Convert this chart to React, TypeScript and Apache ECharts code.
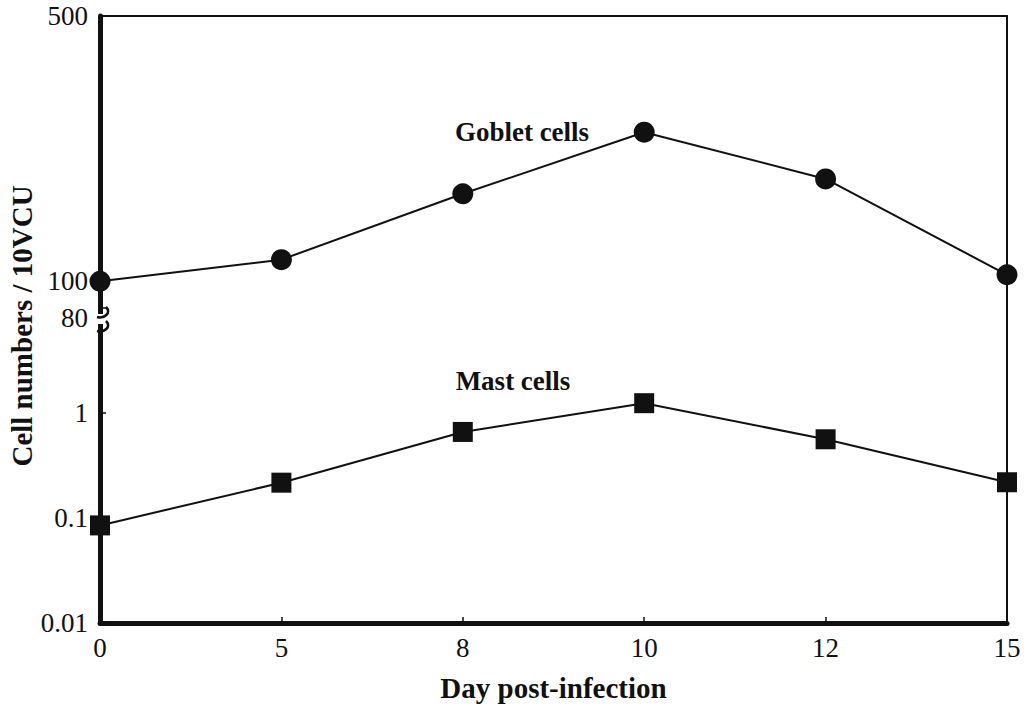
import React, { useEffect, useRef } from "react";
import * as echarts from "echarts";

const days = ["0", "5", "8", "10", "12", "15"];
const gobletCells = [100, 114, 170, 247, 186, 104];
const mastCells = [0.085, 0.217, 0.66, 1.24, 0.562, 0.219];
const upperRange = [80, 500];
const lowerRange = [0.01, 10];
const hiddenLowerTicks = [10];

const FONT = "Liberation Serif";
const INK = "#111";

const fmt = (v: number) => {
  const r = Number(v.toPrecision(3));
  if (hiddenLowerTicks.includes(r)) return "";
  return String(r);
};

export default function App() {
  const ref = useRef<HTMLDivElement>(null);
  useEffect(() => {
    if (!ref.current) return;
    const chart = echarts.init(ref.current, undefined, { renderer: "svg" });
    const labelStyle = { fontFamily: FONT, fontSize: 27, color: INK };
    const titleStyle = { fontFamily: FONT, fontSize: 27, fontWeight: "bold" as const, fill: INK };
    const leftAxisCommon = {
      type: "log" as const,
      axisLine: { show: true, onZero: false, lineStyle: { color: INK, width: 5 } },
      axisTick: { show: true, inside: true, length: 6, lineStyle: { color: INK, width: 1.5 } },
      splitLine: { show: false },
      axisLabel: { ...labelStyle, margin: 12, formatter: fmt },
    };
    const rightAxisCommon = {
      type: "log" as const,
      position: "right" as const,
      axisLine: { show: true, onZero: false, lineStyle: { color: INK, width: 2 } },
      axisTick: { show: false },
      axisLabel: { show: false },
      splitLine: { show: false },
    };
    chart.setOption({
      animation: false,
      backgroundColor: "#fff",
      grid: [
        { left: 100, right: 24, top: 16, height: 302 },
        { left: 100, right: 24, top: 308, bottom: 84 },
      ],
      xAxis: [
        {
          type: "category",
          gridIndex: 0,
          data: days,
          boundaryGap: false,
          position: "top",
          axisLine: { show: true, onZero: false, lineStyle: { color: INK, width: 2 } },
          axisTick: { show: false },
          axisLabel: { show: false },
        },
        {
          type: "category",
          gridIndex: 1,
          data: days,
          boundaryGap: false,
          position: "bottom",
          axisLine: { show: true, onZero: false, lineStyle: { color: INK, width: 5 } },
          axisTick: { show: true, inside: true, length: 6, lineStyle: { color: INK, width: 1.5 } },
          axisLabel: { ...labelStyle, margin: 11 },
          name: "Day post-infection",
          nameLocation: "middle",
          nameGap: 50,
          nameTextStyle: { fontFamily: FONT, fontSize: 29, fontWeight: "bold", color: INK },
        },
      ],
      yAxis: [
        { ...leftAxisCommon, gridIndex: 0, min: upperRange[0], max: upperRange[1] },
        { ...leftAxisCommon, gridIndex: 1, min: lowerRange[0], max: lowerRange[1] },
        { ...rightAxisCommon, gridIndex: 0, min: upperRange[0], max: upperRange[1] },
        { ...rightAxisCommon, gridIndex: 1, min: lowerRange[0], max: lowerRange[1] },
      ],
      series: [
        {
          name: "Goblet cells",
          type: "line",
          xAxisIndex: 0,
          yAxisIndex: 0,
          data: gobletCells,
          symbol: "circle",
          symbolSize: 21,
          clip: false,
          itemStyle: { color: INK },
          lineStyle: { color: INK, width: 2 },
        },
        {
          name: "Mast cells",
          type: "line",
          xAxisIndex: 1,
          yAxisIndex: 1,
          data: mastCells,
          symbol: "rect",
          symbolSize: 20,
          clip: false,
          itemStyle: { color: INK },
          lineStyle: { color: INK, width: 2 },
        },
      ],
      graphic: [
        {
          type: "text",
          x: 522,
          y: 132,
          style: { ...titleStyle, text: "Goblet cells", align: "center", verticalAlign: "middle" },
        },
        {
          type: "text",
          x: 513,
          y: 381,
          style: { ...titleStyle, text: "Mast cells", align: "center", verticalAlign: "middle" },
        },
        {
          type: "text",
          x: 22,
          y: 326,
          rotation: Math.PI / 2,
          style: { ...titleStyle, fontSize: 29, text: "Cell numbers / 10VCU", align: "center", verticalAlign: "middle" },
        },
        {
          type: "rect",
          z: 100,
          shape: { x: 93, y: 314, width: 20, height: 10 },
          style: { fill: "#fff" },
        },
        {
          type: "bezierCurve",
          z: 101,
          shape: { x1: 97, y1: 317, cpx1: 104, cpy1: 319, cpx2: 112, cpy2: 313, x2: 106, y2: 307 },
          style: { stroke: INK, lineWidth: 2.5, fill: "none" },
        },
        {
          type: "bezierCurve",
          z: 101,
          shape: { x1: 97, y1: 331, cpx1: 104, cpy1: 333, cpx2: 112, cpy2: 327, x2: 106, y2: 321 },
          style: { stroke: INK, lineWidth: 2.5, fill: "none" },
        },
      ],
    });
    return () => chart.dispose();
  }, []);
  return (
    <div
      ref={ref}
      style={{ position: "fixed", left: 0, top: 0, width: 1031, height: 707 }}
    />
  );
}
